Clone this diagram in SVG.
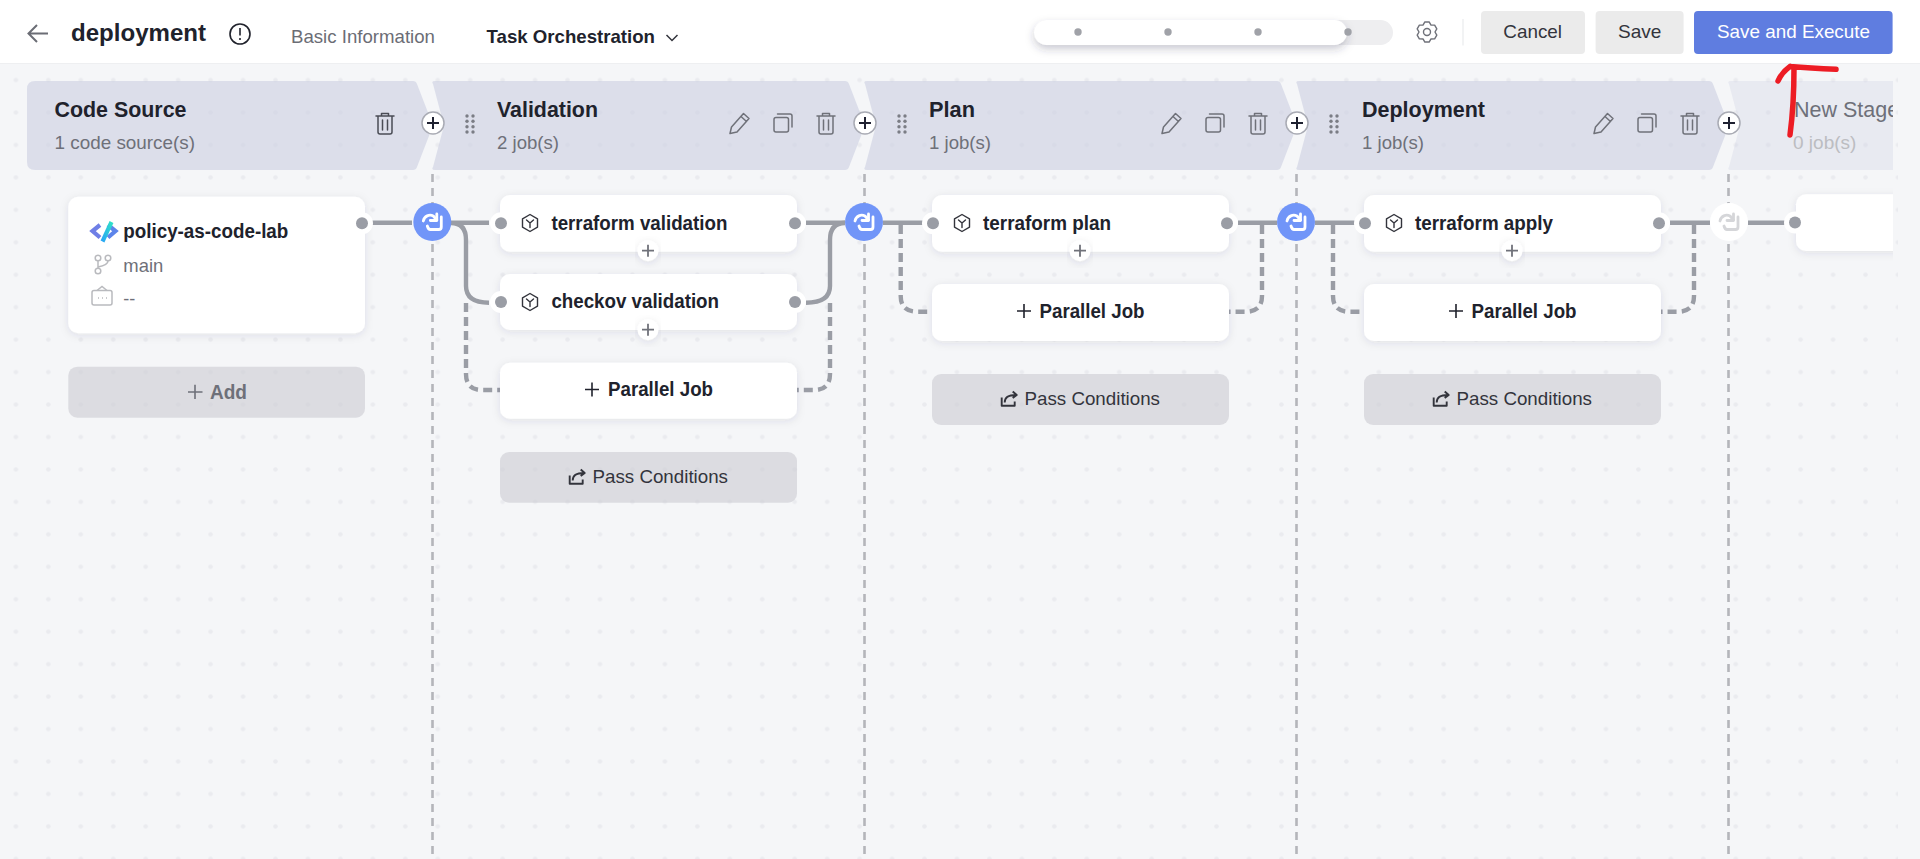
<svg xmlns="http://www.w3.org/2000/svg" width="1920" height="859" viewBox="0 0 1920 859" color="#6f7179">
<style>
text{font-family:"Liberation Sans",Arial,sans-serif}
.st{font-size:21.5px;font-weight:700;fill:#20222c}
.sub{font-size:19px;fill:#6e7079}
.job{font-size:19.500px;font-weight:700;fill:#20222c}
.pass{font-size:19px;fill:#33343c}
.ui{font-size:19px}
.card{fill:#fff;filter:url(#sh)}
.gray{fill:#cbccd2;fill-opacity:.6}
.band{fill:#cbcee1;fill-opacity:.6}
.ico{fill:none;stroke:currentColor;stroke-width:1.5;stroke-linecap:round;stroke-linejoin:round}
.hex{fill:none;stroke:#33343c;stroke-width:1.4;stroke-linejoin:round;stroke-linecap:round}
.solid{fill:none;stroke:#9a9da5;stroke-width:4.4}
.dash{fill:none;stroke:#9a9da5;stroke-width:4.4;stroke-dasharray:9 5}
.vd{stroke:#b4b5ba;stroke-width:2.6;stroke-dasharray:8 6;fill:none}
.halo{fill:#fff}
.port{fill:#9a9da5}
</style>
<defs>
<pattern id="dots" patternUnits="userSpaceOnUse" x="-0.3" y="63.8" width="32.45" height="32.45"><circle cx="16.2" cy="16.2" r="2.3" fill="#eaebef"/></pattern>
<filter id="sh" x="-10%" y="-20%" width="120%" height="150%"><feDropShadow dx="0" dy="2" stdDeviation="4" flood-color="#30364e" flood-opacity=".1"/></filter>
<filter id="sh2" x="-30%" y="-60%" width="160%" height="260%"><feDropShadow dx="0" dy="4" stdDeviation="4" flood-color="#30364e" flood-opacity=".25"/></filter>
<linearGradient id="lg2" x1="0" y1="1" x2="1" y2="0"><stop offset="0" stop-color="#28a6f5"/><stop offset="1" stop-color="#2fe0c8"/></linearGradient>
<path id="stage" d="M6 0H413Q416 0 417 3L433 44.500L417 86Q416 89 413 89H3Q-1 89 1 86L12 44.500L1 3Q-1 0 3 0Z"/>
<g id="trash" class="ico"><path d="M-9-8H9M-3.500-8V-10.500H3.500V-8M-7-8V8Q-7 10 -5 10H5Q7 10 7 8V-8M-2.500-4V6M2.500-4V6"/></g>
<g id="copy" class="ico"><rect x="-9" y="-5.500" width="14.500" height="14.500" rx="2"/><path d="M-5.500-9H7Q9-9 9-7V4"/></g>
<g id="pencil" class="ico"><path d="M-10 10.500L-8.500 4L3.500-9.500L9-4.500L-3 9ZM1-6.500L6.500-1.500"/></g>
<g id="grip" fill="#7b7d85"><circle cx="-3" cy="-8" r="1.700"/><circle cx="3" cy="-8" r="1.700"/><circle cx="-3" cy="-2.700" r="1.700"/><circle cx="3" cy="-2.700" r="1.700"/><circle cx="-3" cy="2.700" r="1.700"/><circle cx="3" cy="2.700" r="1.700"/><circle cx="-3" cy="8" r="1.700"/><circle cx="3" cy="8" r="1.700"/></g>
<g id="addStage"><circle r="11" fill="#fff" stroke="#a9abb4" stroke-width="1.500"/><path d="M-6 0H6M0-6V6" stroke="#1e2030" stroke-width="2" fill="none"/></g>
<g id="hexi" class="hex"><path d="M0-8.500L7.500-4.200V4.200L0 8.500L-7.500 4.200V-4.200Z"/><path d="M-3.500-3L0 0L3.500-3M0 0V4.500"/></g>
<g id="addJob"><circle r="10.500" fill="#fff" filter="url(#sh)"/><path d="M-6 0H6M0-6V6" stroke="#70727a" stroke-width="1.800" fill="none"/></g>
<g id="sync" fill="none" stroke-width="2.800" stroke-linecap="round" stroke-linejoin="round"><path d="M-9-1C-8-6-3-8 1-6L4.500-2"/><path d="M4.500-8V-1.500H-2"/><path d="M9-5V5Q9 7.500 6.500 7.500H-2Q-4 7.500-5 4"/></g>
<g id="passi" fill="none" stroke="#33343c" stroke-width="1.900" stroke-linejoin="round"><path d="M-7-1V7.300H6V3M-4 4C-4-1-1-3.500 7.300-3.500M4-7L8-3.500L4-.5"/></g>
<g id="plusP"><path d="M-7 0H7M0-7V7" stroke="#20222c" stroke-width="1.600" fill="none"/></g>
</defs>
<rect width="1920" height="859" fill="#f5f6f8"/>
<rect x="0" y="64" width="1898" height="795" fill="url(#dots)"/>
<g id="dividers">
<path class="vd" d="M432.500 174V859M864.500 174V859M1296.500 174V859M1728.500 174V859"/>
</g>
<g id="stages">
<g id="stage-code-source"><path class="band" d="M35 81H413Q416 81 417 84L433 125.500L417 167Q416 170 413 170H35Q27 170 27 162V89Q27 81 35 81Z"/>
<text class="st" x="54.500" y="116.700" textLength="132" lengthAdjust="spacingAndGlyphs">Code Source</text><text class="sub" x="54.500" y="149" textLength="140.500" lengthAdjust="spacingAndGlyphs">1 code source(s)</text><use href="#trash" x="385" y="124" color="#4a4c55"/></g>
<g id="stage-validation"><use href="#stage" class="band" x="432" y="81"/><use href="#grip" x="470" y="124"/>
<text class="st" x="497" y="116.700" textLength="101" lengthAdjust="spacingAndGlyphs">Validation</text><text class="sub" x="497" y="149" textLength="62" lengthAdjust="spacingAndGlyphs">2 job(s)</text><use href="#pencil" x="740" y="123"/><use href="#copy" x="783" y="123"/><use href="#trash" x="826" y="124"/></g>
<g id="stage-plan"><use href="#stage" class="band" x="864" y="81"/><use href="#grip" x="902" y="124"/>
<text class="st" x="929" y="116.700" textLength="46" lengthAdjust="spacingAndGlyphs">Plan</text><text class="sub" x="929" y="149" textLength="62" lengthAdjust="spacingAndGlyphs">1 job(s)</text><use href="#pencil" x="1172" y="123"/><use href="#copy" x="1215" y="123"/><use href="#trash" x="1258" y="124"/></g>
<g id="stage-deployment"><use href="#stage" class="band" x="1296" y="81"/><use href="#grip" x="1334" y="124"/>
<text class="st" x="1362" y="116.700" textLength="123" lengthAdjust="spacingAndGlyphs">Deployment</text><text class="sub" x="1362" y="149" textLength="62" lengthAdjust="spacingAndGlyphs">1 job(s)</text><use href="#pencil" x="1604" y="123"/><use href="#copy" x="1647" y="123"/><use href="#trash" x="1690" y="124"/></g>
<g id="stage-new"><path d="M1734 81H1893V170H1731Q1727 170 1729 167L1740 125.500L1729 84Q1727 81 1731 81Z" fill="#cbcee1" fill-opacity=".3"/>
<svg x="1728" y="81" width="165" height="89"><text x="66" y="35.700" font-size="21.500" fill="#6e7079">New Stage</text><text x="65" y="68" font-size="19" fill="#bcbdc1">0 job(s)</text></svg></g>
</g>
<g id="connectors">
<path class="solid" d="M372 222.700H412M451 222.700H489M451 223Q466 223 466 240V286Q466 302.700 489 302.700"/>
<path class="dash" d="M466 303V374Q466 390 482 390H500"/>
<path class="solid" d="M806 222.700H845M845 223Q830 223 830 240V286Q830 302.700 806 302.700"/>
<path class="dash" d="M830 303V374Q830 390 814 390H797"/>
<path class="solid" d="M883 222.700H923"/>
<path class="dash" d="M900.700 225V296Q900.700 311.700 917 311.700H932"/>
<path class="solid" d="M1238 222.700H1277"/>
<path class="dash" d="M1262 225V296Q1262 311.700 1246 311.700H1229"/>
<path class="solid" d="M1315 222.700H1355"/>
<path class="dash" d="M1333 225V296Q1333 311.700 1349 311.700H1364"/>
<path class="solid" d="M1670 222.700H1710"/>
<path class="dash" d="M1694 225V296Q1694 311.700 1678 311.700H1661"/>
<path class="solid" d="M1748 222.700H1785"/>
</g>
<g id="node-source">
<rect class="card" x="68.300" y="196.700" width="296.700" height="136.600" rx="10"/>
<circle class="halo" cx="362" cy="223.300" r="11"/><circle class="port" cx="362" cy="223.300" r="6"/>
<g fill="none" stroke-width="4.200"><path d="M100 225L92.500 231L100 237.500" stroke="#6f7fe6"/><path d="M108 225L115.500 231L108 237.500" stroke="#5d84ea"/><path d="M111.500 222L102.500 241.500" stroke="url(#lg2)"/></g>
<text class="job" x="123.300" y="237.500" textLength="165" lengthAdjust="spacingAndGlyphs">policy-as-code-lab</text>
<g fill="none" stroke="#b9babe" stroke-width="1.500"><circle cx="98" cy="258" r="2.800"/><circle cx="108" cy="258" r="2.800"/><circle cx="98" cy="271" r="2.800"/><path d="M98 261V268M108 261Q108 265 98 267"/></g>
<text class="sub" x="123.300" y="272" textLength="40" lengthAdjust="spacingAndGlyphs">main</text>
<g fill="none" stroke="#b9babe" stroke-width="1.500"><rect x="92" y="290.500" width="20" height="14.500" rx="2"/><path d="M97 290.500L102 286.500L107 290.500M98 298H99M102 298H103M106 298H107"/></g>
<text class="sub" x="123.300" y="305" textLength="12" lengthAdjust="spacingAndGlyphs">--</text>
</g>
<g id="node-add"><rect class="gray" x="68.300" y="366.700" width="296.700" height="51" rx="9"/><path d="M188 392H202.500M195 384.700V399" stroke="#6e7079" stroke-width="1.600" fill="none"/><text x="210" y="398.500" font-size="19.500" font-weight="700" fill="#6e7079" textLength="37" lengthAdjust="spacingAndGlyphs">Add</text></g>

<g id="gateway-1"><circle cx="432.300" cy="222" r="19" fill="#7195f8"/><use href="#sync" x="432.300" y="222" stroke="#fff"/></g>
<g id="gateway-2"><circle cx="864" cy="222" r="19" fill="#7195f8"/><use href="#sync" x="864" y="222" stroke="#fff"/></g>
<g id="gateway-3"><circle cx="1296" cy="222" r="19" fill="#7195f8"/><use href="#sync" x="1296" y="222" stroke="#fff"/></g>
<g id="gateway-4"><circle cx="1729" cy="222" r="19" fill="#fff"/><use href="#sync" x="1729" y="222" stroke="#d5d6d9"/></g>

<g id="job-terraform-validation"><rect class="card" x="500" y="195" width="297" height="56.700" rx="10"/>
<circle class="halo" cx="501" cy="223.300" r="11"/><circle class="port" cx="501" cy="223.300" r="6"/><circle class="halo" cx="795" cy="223.300" r="11"/><circle class="port" cx="795" cy="223.300" r="6"/>
<use href="#hexi" x="530" y="223"/><text class="job" x="551.400" y="230" textLength="176" lengthAdjust="spacingAndGlyphs">terraform validation</text><use href="#addJob" x="648" y="250.700"/></g>
<g id="job-checkov-validation"><rect class="card" x="500" y="274" width="297" height="56" rx="10"/>
<circle class="halo" cx="501" cy="302" r="11"/><circle class="port" cx="501" cy="302" r="6"/><circle class="halo" cx="795" cy="302" r="11"/><circle class="port" cx="795" cy="302" r="6"/>
<use href="#hexi" x="530" y="302"/><text class="job" x="551.400" y="308" textLength="167.600" lengthAdjust="spacingAndGlyphs">checkov validation</text><use href="#addJob" x="648" y="329.700"/></g>
<g id="parallel-1"><rect class="card" x="500" y="362.700" width="297" height="56" rx="10"/><use href="#plusP" x="592" y="389.500"/><text class="job" x="608" y="396" textLength="105" lengthAdjust="spacingAndGlyphs">Parallel Job</text></g>
<g id="pass-1"><rect class="gray" x="500" y="452" width="297" height="50.700" rx="9"/><use href="#passi" x="576.700" y="476.500"/><text class="pass" x="592.500" y="483" textLength="135.500" lengthAdjust="spacingAndGlyphs">Pass Conditions</text></g>

<g id="job-terraform-plan"><rect class="card" x="932" y="195" width="297" height="56.700" rx="10"/>
<circle class="halo" cx="933" cy="223.300" r="11"/><circle class="port" cx="933" cy="223.300" r="6"/><circle class="halo" cx="1227" cy="223.300" r="11"/><circle class="port" cx="1227" cy="223.300" r="6"/>
<use href="#hexi" x="962" y="223"/><text class="job" x="983" y="230" textLength="128" lengthAdjust="spacingAndGlyphs">terraform plan</text><use href="#addJob" x="1080" y="250.700"/></g>
<g id="parallel-2"><rect class="card" x="932" y="284" width="297" height="57" rx="10"/><use href="#plusP" x="1024" y="311"/><text class="job" x="1039.500" y="318" textLength="105" lengthAdjust="spacingAndGlyphs">Parallel Job</text></g>
<g id="pass-2"><rect class="gray" x="932" y="374" width="297" height="51" rx="9"/><use href="#passi" x="1008.700" y="398.500"/><text class="pass" x="1024.500" y="405" textLength="135.500" lengthAdjust="spacingAndGlyphs">Pass Conditions</text></g>

<g id="job-terraform-apply"><rect class="card" x="1364" y="195" width="297" height="56.700" rx="10"/>
<circle class="halo" cx="1365" cy="223.300" r="11"/><circle class="port" cx="1365" cy="223.300" r="6"/><circle class="halo" cx="1659" cy="223.300" r="11"/><circle class="port" cx="1659" cy="223.300" r="6"/>
<use href="#hexi" x="1394" y="223"/><text class="job" x="1415" y="230" textLength="138" lengthAdjust="spacingAndGlyphs">terraform apply</text><use href="#addJob" x="1512" y="250.700"/></g>
<g id="parallel-3"><rect class="card" x="1364" y="284" width="297" height="57" rx="10"/><use href="#plusP" x="1456" y="311"/><text class="job" x="1471.500" y="318" textLength="105" lengthAdjust="spacingAndGlyphs">Parallel Job</text></g>
<g id="pass-3"><rect class="gray" x="1364" y="374" width="297" height="51" rx="9"/><use href="#passi" x="1440.700" y="398.500"/><text class="pass" x="1456.500" y="405" textLength="135.500" lengthAdjust="spacingAndGlyphs">Pass Conditions</text></g>

<g id="job-new"><svg x="1780" y="180" width="113" height="90"><rect class="card" x="16" y="14.300" width="130" height="56.700" rx="10"/></svg><circle class="halo" cx="1795" cy="222.500" r="11"/><circle class="port" cx="1795" cy="222.500" r="6"/></g>

<g id="stage-adders"><use href="#addStage" x="433" y="123"/><use href="#addStage" x="865" y="123"/><use href="#addStage" x="1297" y="123"/><use href="#addStage" x="1729" y="123"/></g>

<g id="header">
<rect width="1920" height="63" fill="#fff"/><path d="M0 63.500H1920" stroke="#eeeff1"/>
<path d="M48 33.500H29M37 25L28.500 33.500L37 42" fill="none" stroke="#6b6d75" stroke-width="2"/>
<text x="71" y="40.700" font-size="23.500" font-weight="700" fill="#20222c" textLength="135" lengthAdjust="spacingAndGlyphs">deployment</text>
<circle cx="240" cy="34" r="10" fill="none" stroke="#20222c" stroke-width="1.600"/><path d="M240 28V35.500M240 38V40" stroke="#20222c" stroke-width="1.600"/>
<text class="ui" x="291" y="43.300" fill="#6b6d75" textLength="144" lengthAdjust="spacingAndGlyphs">Basic Information</text>
<text class="ui" x="486.600" y="43.300" font-weight="700" fill="#20222c" textLength="168.400" lengthAdjust="spacingAndGlyphs">Task Orchestration</text>
<path d="M666.500 35L672 40.500L677.500 35" fill="none" stroke="#33343c" stroke-width="1.500"/>
<rect x="1034" y="20" width="359" height="25" rx="12.500" fill="#eeeef0"/>
<rect x="1034" y="20" width="313" height="25" rx="12.500" fill="#fff" filter="url(#sh2)"/>
<circle cx="1078" cy="32" r="3.700" fill="#a0a2a8"/><circle cx="1168" cy="32" r="3.700" fill="#a0a2a8"/><circle cx="1258" cy="32" r="3.700" fill="#a0a2a8"/><circle cx="1348" cy="32" r="3.700" fill="#a0a2a8"/>
<g id="gear" transform="translate(1427 32)" fill="none" stroke="#6f7179" stroke-width="1.400" stroke-linejoin="round"><circle r="3.500"/><path d="M2.140-10.070L-2.140-10.070L-4-6.930L-7.650-6.890L-9.800-3.180L-8 0L-9.800 3.180L-7.650 6.890L-4 6.930L-2.140 10.070L2.140 10.070L4 6.930L7.650 6.890L9.800 3.180L8 0L9.800-3.180L7.650-6.890L4-6.930Z"/></g>
<path d="M1463 19V45.500" stroke="#eeeff1" stroke-width="1.500"/>
<rect x="1481" y="11" width="104" height="43" rx="4" fill="#ebebeb"/><text class="ui" x="1503.300" y="38" fill="#33343c" textLength="58.700" lengthAdjust="spacingAndGlyphs">Cancel</text>
<rect x="1595.600" y="11" width="88" height="43" rx="4" fill="#ebebeb"/><text class="ui" x="1618" y="38" fill="#33343c" textLength="43.400" lengthAdjust="spacingAndGlyphs">Save</text>
<rect x="1694" y="11" width="198.600" height="43" rx="4" fill="#5f7de0"/><text class="ui" x="1717" y="38" fill="#fff" textLength="153" lengthAdjust="spacingAndGlyphs">Save and Execute</text>
</g>
<path id="red-arrow" d="M1836 69.300Q1810 68 1790 66.500M1794 68Q1794 105 1790 135M1790 66.500Q1782 72 1778 81" fill="none" stroke="#ed1c24" stroke-width="5.500" stroke-linecap="round" stroke-linejoin="round"/>
</svg>
